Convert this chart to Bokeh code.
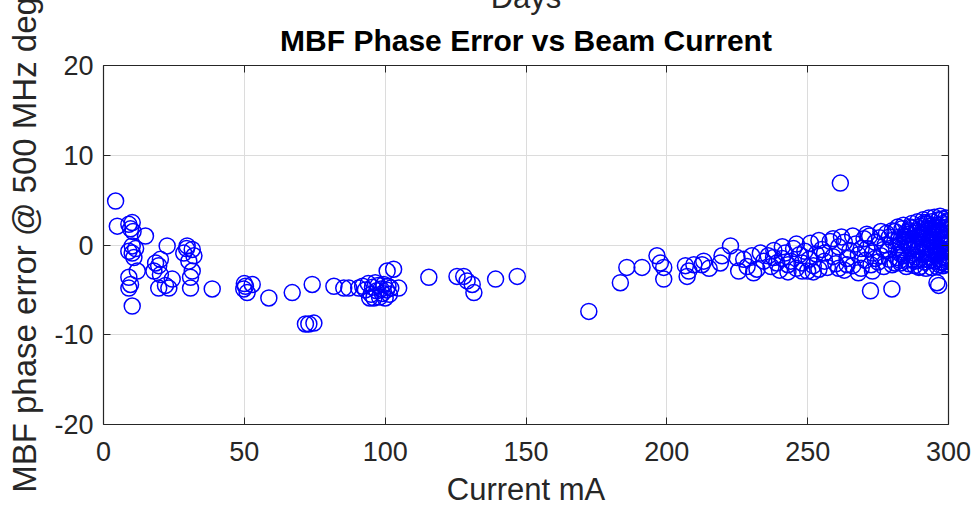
from bokeh.plotting import figure
from bokeh.models import (LinearAxis, Range1d, FixedTicker, Title,
                          CustomJSTickFormatter)
from bokeh.embed import file_html
from bokeh.resources import INLINE

# ---- data ----
current_ma = [
    4.3, 4.9, 9.0, 10.2, 9.6, 10.5, 14.9, 10.2, 9.0, 10.2, 10.8, 11.4, 12.0, 9.0, 9.6, 9.0, 10.2,
    22.6, 20.2, 18.5, 19.6, 20.2, 17.9, 19.6, 23.2, 24.4, 22.0, 29.7, 31.5, 28.5, 32.1, 30.3,
    31.5, 30.9, 30.9, 29.5, 38.6,
    49.8, 50.4, 51.0, 52.8, 50.0, 58.7, 67.0, 74.1, 72.9, 74.7, 71.7, 81.8, 85.3, 87.1, 90.6,
    92.0, 93.0, 94.0, 95.0, 95.5, 96.0, 97.0, 97.5, 98.0, 98.5, 99.0, 99.5, 100.0, 100.5, 101.0,
    101.5, 102.0, 96.5, 94.5, 100.7, 103.0, 104.8, 115.5, 125.5, 127.9, 129.1, 130.9, 131.5,
    139.2, 146.9,
    172.3, 183.5, 185.8, 191.2, 196.5, 197.7, 198.9, 198.9, 206.6, 207.2, 207.8, 209.6, 212.5,
    213.1, 219.0, 219.6, 222.6, 224.9, 225.5, 227.3, 230.2, 230.8, 233.2, 234.4, 237.9, 215.0,
    228.5, 232.0,
    261.6, 272.3, 279.9, 295.9, 296.5,
    236, 237, 238, 239, 240, 241, 242, 243, 244, 245, 246, 247, 248, 249, 250, 250.5,
    251, 252, 253, 254, 255, 256, 257, 258, 259, 260, 261, 262, 263, 264, 265,
    266, 267, 268, 269, 270, 270.5, 271, 272, 272.5, 273, 274, 275, 275.5, 276, 277, 277.5,
    278, 278.5, 279, 280, 280,
    281, 281.5, 282, 282.5, 283, 283.5, 284, 284.5, 285, 285.5, 286, 286.5, 287, 287.5, 288,
    288.5, 289, 289.5, 290, 290,
    290.5, 291, 291, 291.5, 292, 292, 292.5, 293, 293, 293.5, 294, 294, 294.5, 295, 295, 295.5,
    296, 296, 296.5, 297, 297, 297.5, 298, 298, 298.5, 299, 299, 299.5, 299.5, 300, 300, 298.7,
    297.8, 296.8, 299.8, 299.2, 300, 300,
    284, 285, 286, 287, 288, 289, 290, 291, 292, 293, 294, 295, 296, 297, 298, 299, 300, 300,
    299, 298, 297, 296, 295, 294, 293, 292, 291, 290, 289, 288, 287, 286, 285, 284, 283, 282,
    281, 280, 299.5, 298.5, 297.5, 296.5, 295.5, 294.5, 293.5, 292.5, 291.5, 290.5, 289.5,
    241, 243, 246, 248, 252, 254, 256, 259, 261, 263, 266, 268, 271, 273, 276, 279, 277, 274,
    269, 264,
    282.2, 283.4, 284.6, 285.8, 287.0, 288.2, 289.4, 290.6, 291.8, 293.0, 294.2, 295.4, 296.6,
    297.8, 299.0, 300.0, 283.0, 285.0, 287.2, 289.0, 291.2, 293.4, 295.2, 297.2, 299.4, 298.2,
    296.2, 294.0, 292.2, 290.2, 288.0, 286.2, 284.2, 282.8, 300.0, 299.6, 298.0, 295.8,
]
phase_deg = [
    4.9, 2.1, 2.3, 2.5, 1.8, 1.5, 1.0, -0.1, -0.7, -0.9, -1.4, -0.4, -2.9, -3.6, -4.4, -4.8, -6.8,
    -0.1, -1.6, -2.0, -2.3, -3.3, -2.9, -4.8, -4.8, -3.8, -4.5, -0.1, -0.5, -0.9, -1.2, -1.8,
    -2.9, -3.6, -4.8, -0.4, -4.9,
    -4.9, -4.6, -5.3, -4.4, -4.3, -5.9, -5.3, -4.4, -8.8, -8.7, -8.8, -4.6, -4.8, -4.8, -4.8,
    -4.6, -5.0, -4.3, -5.5, -4.7, -5.9, -5.1, -4.5, -5.8, -4.9, -5.4, -4.4, -5.9, -5.0, -4.6,
    -5.5, -4.8, -4.2, -5.9, -2.9, -2.7, -4.8, -3.6, -3.5, -3.5, -4.0, -4.4, -5.3,
    -3.8, -3.5,
    -7.4, -4.2, -2.5, -2.5, -1.2, -2.0, -2.5, -3.8, -2.3, -3.5, -2.9, -2.2, -2.2,
    -1.8, -2.0, -1.2, -0.1, -1.4, -2.9, -1.6, -1.2, -3.1, -0.9, -1.8, -1.4, -2.6,
    -2.4, -2.7,
    6.9, -5.1, -4.9, -4.2, -4.5,
    -1.2, -2.4, -0.6, -2.0, -2.8, -1.5, -0.9, -2.2, -1.8, -0.4, -2.6, -1.1, -2.0, -0.7, -2.9, -1.6,
    0.2, -2.3, -1.0, -2.7, -0.5, -1.8, -2.5, 0.4, -1.3, -2.1, -0.2, 0.9, -2.8, -1.5, -0.6,
    -2.3, 0.1, -1.1, -2.6, 0.7, -1.7, -0.4, 1.0, -2.2, -0.9, 0.3, -1.9, 0.8, -1.2, -2.4, 0.0,
    1.3, -0.6, -1.6, 0.5, -2.2,
    1.5, -0.3, -1.4, 0.9, -2.0, 1.8, -0.8, 0.3, -1.7, 1.2, -0.1, 2.0, -1.1, 0.6, -2.3,
    1.6, -0.5, 0.9, -1.5, 2.1,
    0.3, 1.4, -0.9, -1.9, 0.8, 2.3, -0.2, 1.7, -1.3, 0.4, 2.6, -0.6, 1.1, -1.8, 0.0, 2.0,
    -1.0, 0.9, 2.8, -0.3, 1.5, -1.6, 0.5, 2.4, -0.8, 1.2, -1.4, 0.2, 2.0, -0.5, 1.0, -2.1,
    2.9, -2.2, 2.7, -0.1, 1.8, -1.2,
    2.2, -2.4, 1.6, 2.4, -0.2, 2.6, -2.4, 2.8, -2.6, 3.0, -2.5, 3.1, -2.4, 3.2, -2.3, 3.0, -2.2, 2.6,
    0.7, -1.3, 0.9, -0.5, 1.4, 0.3, 2.1, -1.6, 0.1, 1.2, -1.7, 0.4, 1.9, -2.1, 0.6, -1.2, 0.0, 2.0,
    -2.0, 1.6, -1.8, 1.8, 0.1, -1.5, -0.6, 2.2, -0.9, 1.3, 2.5, -0.7, -2.5,
    -0.2, -3.0, 0.1, -2.9, -3.0, 0.5, -0.9, 0.7, -2.6, 0.3, 1.0, -3.1, 1.2, -2.9, 1.5, 0.9, -0.5,
    -1.5, -0.4, -2.2,
    0.6, -0.5, 1.0, 0.2, -0.4, 1.3, 0.0, 0.8, -0.3, 1.1, 0.5, -0.2, 1.6, 0.7, -0.7, 0.3,
    -1.0, 1.4, -1.6, 1.0, -1.1, -1.7, 1.9, -1.9, 1.6, 0.1, 2.2, 1.9, 2.4, 1.8, -1.8, 1.2, 0.9,
    -1.7, -1.6, 2.3, -1.9, -0.9,
]

x_ticks = [0, 50, 100, 150, 200, 250, 300]
y_ticks = [-20, -10, 0, 10, 20]
title_text = "MBF Phase Error vs Beam Current"
top_label = "Days"
x_label = "Current mA"
y_label = "MBF phase error @ 500 MHz deg"

FONT = "Liberation Sans"
AX = "#262626"
SHIFT = 22  # top strip of the figure that lies above the window, as in the reference

p = figure(width=971, height=510 + SHIFT, output_backend="svg", toolbar_location=None,
           x_range=Range1d(0, 300), y_range=Range1d(-20, 20), title=None,
           min_border_left=103, min_border_right=23, min_border_top=65 + SHIFT,
           min_border_bottom=86, background_fill_color="white",
           border_fill_color="white", outline_line_color=None,
           margin=(-SHIFT, 0, 0, 0))

p.scatter(current_ma, phase_deg, marker="circle", size=16, fill_color=None,
          line_color="#0000ff", line_width=1.5)

plain = CustomJSTickFormatter(code="return tick.toString()")

for ax in (p.xaxis[0], p.yaxis[0]):
    ax.major_tick_in = 7
    ax.major_tick_out = 0
    ax.minor_tick_in = 0
    ax.minor_tick_out = 0
    ax.axis_line_color = AX
    ax.axis_line_width = 1.2
    ax.major_tick_line_color = AX
    ax.major_label_text_font = FONT
    ax.major_label_text_font_size = "27px"
    ax.major_label_text_color = AX
    ax.axis_label_text_font = FONT
    ax.axis_label_text_font_style = "normal"
    ax.axis_label_text_color = AX
    ax.formatter = plain

p.xaxis[0].ticker = FixedTicker(ticks=x_ticks)
p.yaxis[0].ticker = FixedTicker(ticks=y_ticks)
p.xaxis[0].axis_label = x_label
p.xaxis[0].axis_label_text_font_size = "31px"
p.xaxis[0].major_label_standoff = 17
p.xaxis[0].axis_label_standoff = 8
p.yaxis[0].axis_label = y_label
p.yaxis[0].axis_label_text_font_size = "33px"
p.yaxis[0].major_label_standoff = 10
p.yaxis[0].axis_label_standoff = 8

blank = CustomJSTickFormatter(code="return ''")
top_ax = LinearAxis(ticker=FixedTicker(ticks=x_ticks), formatter=blank)
right_ax = LinearAxis(ticker=FixedTicker(ticks=y_ticks), formatter=blank)
for ax in (top_ax, right_ax):
    ax.major_tick_in = 7
    ax.major_tick_out = 0
    ax.minor_tick_in = 0
    ax.minor_tick_out = 0
    ax.axis_line_color = AX
    ax.axis_line_width = 1.2
    ax.major_tick_line_color = AX
    ax.major_label_standoff = 0
    ax.major_label_text_font_size = "1px"
p.add_layout(top_ax, "above")
p.add_layout(right_ax, "right")

p.xgrid.ticker = FixedTicker(ticks=x_ticks)
p.ygrid.ticker = FixedTicker(ticks=y_ticks)
p.grid.grid_line_color = "#dcdcdc"
p.grid.grid_line_width = 1

p.add_layout(Title(text=title_text, text_font=FONT, text_font_size="30px",
                   text_font_style="bold", text_color="black", align="center",
                   standoff=18), "above")
p.add_layout(Title(text=top_label, text_font=FONT, text_font_size="31px",
                   text_font_style="normal", text_color=AX, align="center",
                   standoff=-5), "above")

open("out.html", "w").write(file_html(p, INLINE))
